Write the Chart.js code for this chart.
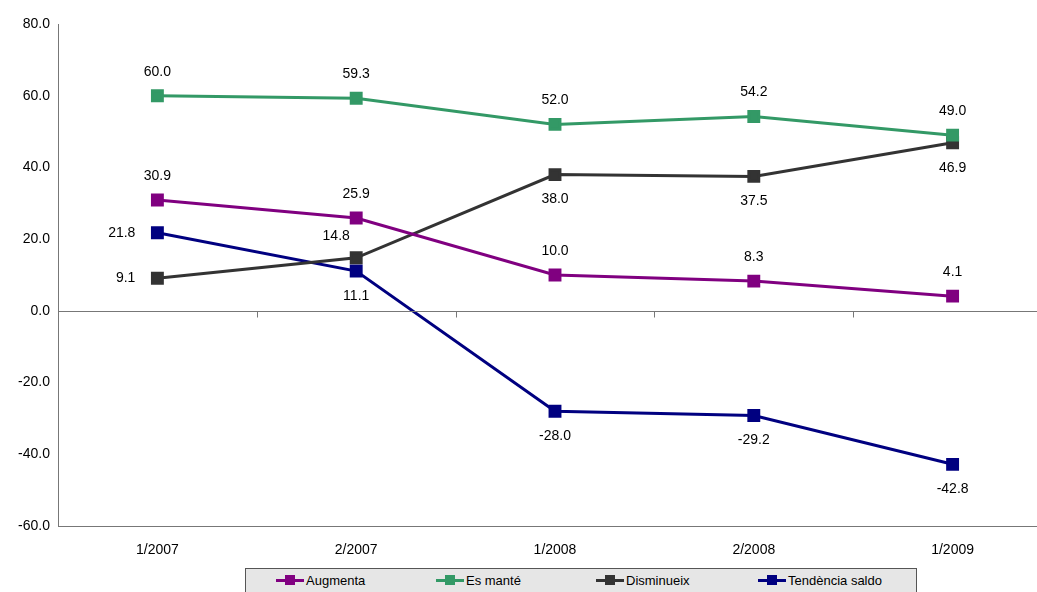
<!DOCTYPE html>
<html><head><meta charset="utf-8">
<script src="https://cdn.jsdelivr.net/npm/chart.js@4"></script>
<style>
html,body{margin:0;padding:0;background:#fff;overflow:hidden;width:1037px;height:592px;position:relative}
#wrap{position:absolute;left:0;top:0;width:1062px;height:568px}
#legend{position:absolute;left:245px;top:568px;width:672px;height:30px;background:#e6e6e6;border:1px solid #555;box-sizing:border-box;font:13px "Liberation Sans",Arial,sans-serif}
.it{position:absolute;top:4px;display:flex;align-items:center}
.sw{width:28px;height:3px;position:relative;margin-right:2px}
.sw i{position:absolute;left:9px;top:-4px;width:10px;height:10px}
</style></head><body>
<div id="wrap"><canvas id="c" width="1062" height="568"></canvas></div>
<div id="legend"></div>
<script>
const categories=["1/2007","2/2007","1/2008","2/2008","1/2009"];
const augmenta=[30.9,25.9,10.0,8.3,4.1];
const esMante=[60.0,59.3,52.0,54.2,49.0];
const disminueix=[9.1,14.8,38.0,37.5,46.9];
const tendencia=[21.8,11.1,-28.0,-29.2,-42.8];
const seriesNames=["Augmenta","Es manté","Disminueix","Tendència saldo"];
const colors=["#800080","#339966","#333333","#000080"];
const labelPos=[
 ["a","a","a","a","a"],
 ["a","a","a","a","a"],
 ["l","al","b","b","b"],
 ["l","b","b","b","b"]];
const data=[augmenta,esMante,disminueix,tendencia];
const font='14px "Liberation Sans", Arial, sans-serif';
const deco={id:'deco',afterDraw(ch){
 const c=ch.ctx,a=ch.chartArea,y=ch.scales.y;
 c.save();c.strokeStyle='#777';c.lineWidth=1;
 const z=Math.round(y.getPixelForValue(0))+0.5;
 c.beginPath();c.moveTo(a.left,z);c.lineTo(a.right,z);
 c.moveTo(a.left,Math.round(a.bottom)+0.5);c.lineTo(a.right,Math.round(a.bottom)+0.5);
 const w=(a.right-a.left)/categories.length;
 for(let i=1;i<categories.length;i++){const px=Math.round(a.left+i*w)+0.5;c.moveTo(px,z);c.lineTo(px,z+6);}
 c.stroke();
 c.fillStyle='#000';c.font=font;c.textBaseline='middle';
 ch.data.datasets.forEach((ds,di)=>{const m=ch.getDatasetMeta(di);
  m.data.forEach((p,i)=>{const t=ds.data[i].toFixed(1),pos=labelPos[di][i];
   let dx=0,dy=-24,al='center';
   if(pos==='b')dy=25;
   if(pos==='l'){dx=-22;dy=0;al='right';}
   if(pos==='al'){dx=-20;dy=-22;}
   c.textAlign=al;c.fillText(t,p.x+dx,p.y+dy);});});
 c.restore();}};
const tf={family:'"Liberation Sans", Arial, sans-serif',size:14};
new Chart(document.getElementById('c'),{type:'line',
 data:{labels:categories,datasets:data.map((d,i)=>({label:seriesNames[i],data:d,borderColor:colors[i],backgroundColor:colors[i],borderWidth:3,pointStyle:'rect',pointRadius:7,pointHoverRadius:7,tension:0}))},
 options:{responsive:false,animation:false,layout:{padding:{top:24,right:0,left:0,bottom:0}},
  plugins:{legend:{display:false},tooltip:{enabled:false}},
  scales:{
   x:{offset:true,grid:{display:false,drawTicks:false},border:{display:false},ticks:{color:'#000',font:tf,padding:16},afterFit(s){s.height=42;}},
   y:{min:-60,max:80,grid:{display:false,drawTicks:true,tickLength:5,color:'#777'},border:{display:true,color:'#777'},ticks:{stepSize:20,color:'#000',font:tf,callback:v=>v.toFixed(1)},afterFit(s){s.width=58;}}
  }},plugins:[deco]});
const lg=document.getElementById('legend');
const lefts=[30,190,350,512];
seriesNames.forEach((n,i)=>{const d=document.createElement('div');d.className='it';d.style.left=lefts[i]+'px';
 d.innerHTML='<span class="sw" style="background:'+colors[i]+'"><i style="background:'+colors[i]+'"></i></span>'+n;lg.appendChild(d);});
</script></body></html>
